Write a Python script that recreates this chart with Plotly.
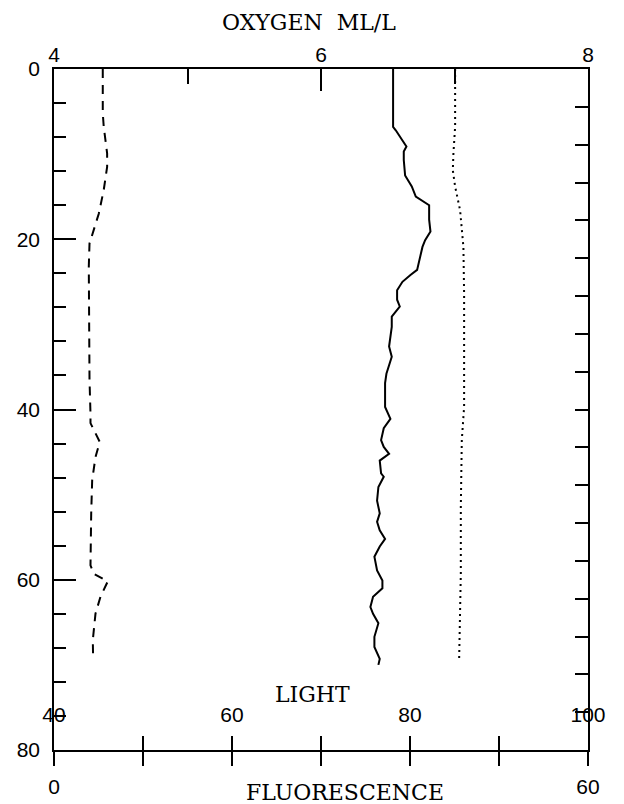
import plotly.graph_objects as go

# ---- data ----
depth_oxygen = [0, 6.8, 7.2, 8.3, 9.1, 9.7, 10.7, 12.5, 13.8, 15.0,
                16.0, 16.9, 17.7, 19.1, 20.1, 20.9, 21.6, 22.4, 23.6, 24.2,
                25.0, 26.0, 27.1, 27.9, 28.5, 29.1, 30.3, 31.5, 32.6, 33.8,
                35.8, 36.9, 39.7, 41.1, 42.2, 43.6, 44.4, 45.2, 46.0, 47.5,
                47.9, 49.1, 50.7, 52.2, 53.2, 54.2, 55.2, 56.1, 57.3, 58.9,
                60.1, 61.0, 62.0, 63.2, 64.0, 65.1, 66.7, 67.9, 69.3, 70.0]
oxygen = [6.54, 6.54, 6.56, 6.61, 6.64, 6.62, 6.62, 6.63, 6.68, 6.71,
          6.81, 6.81, 6.81, 6.82, 6.78, 6.76, 6.75, 6.74, 6.72, 6.67,
          6.61, 6.57, 6.57, 6.59, 6.56, 6.53, 6.53, 6.52, 6.51, 6.53,
          6.49, 6.48, 6.48, 6.52, 6.47, 6.45, 6.47, 6.51, 6.44, 6.45,
          6.47, 6.43, 6.42, 6.44, 6.42, 6.44, 6.48, 6.44, 6.40, 6.42,
          6.46, 6.46, 6.39, 6.37, 6.39, 6.43, 6.40, 6.40, 6.44, 6.43]

depth_fluor = [0, 5.2, 6.8, 9.9, 11.5, 14.2, 17.0, 18.9, 20.5, 23.2,
               36.5, 40.5, 41.6, 43.8, 45.6, 48.3, 52.2, 58.3, 59.3, 60.2,
               62.0, 64.0, 67.1, 69.4]
fluorescence = [5.48, 5.48, 5.59, 5.97, 5.97, 5.59, 5.03, 4.47, 3.99, 3.91,
                3.99, 4.10, 4.10, 5.14, 4.66, 4.29, 4.18, 4.10, 4.47, 6.04,
                5.22, 4.66, 4.36, 4.40]

depth_light = [0, 6.8, 9.9, 11.9, 13.8, 16.6, 20.9, 26.4, 33.8, 39.7,
               43.6, 51.4, 59.3, 65.1, 69.4]
light = [85.07, 85.07, 84.88, 84.81, 85.07, 85.63, 86.00, 86.08, 86.08, 86.08,
         85.82, 85.71, 85.71, 85.63, 85.52]

depth_ticks = [0, 20, 40, 60, 80]
oxygen_ticks = [4, 6, 8]
oxygen_minor = [5, 7]
light_ticks = [40, 60, 80, 100]
fluor_ticks = [0, 10, 20, 30, 40, 50, 60]
fluor_text = ["0", "", "", "", "", "", "60"]

NUM_FONT = dict(family="Liberation Sans, Arial, sans-serif", size=21, color="black")
TITLE_FONT = dict(family="DejaVu Serif, serif", size=22, color="black")

fig = go.Figure()
fig.add_trace(go.Scatter(x=oxygen, y=depth_oxygen, xaxis="x2", yaxis="y",
                         mode="lines", line=dict(color="black", width=2),
                         name="Oxygen", showlegend=False))
fig.add_trace(go.Scatter(x=fluorescence, y=depth_fluor, xaxis="x", yaxis="y",
                         mode="lines", line=dict(color="black", width=2, dash="9px,7px"),
                         name="Fluorescence", showlegend=False))
fig.add_trace(go.Scatter(x=light, y=depth_light, xaxis="x3", yaxis="y",
                         mode="lines", line=dict(color="black", width=2, dash="2px,4px"),
                         name="Light", showlegend=False))
# empty traces so the frame-only axes (inner bottom ticks, right ticks) are drawn
fig.add_trace(go.Scatter(x=[None], y=[None], xaxis="x4", yaxis="y",
                         mode="lines", showlegend=False, hoverinfo="skip"))
fig.add_trace(go.Scatter(x=[None], y=[None], xaxis="x", yaxis="y2",
                         mode="lines", showlegend=False, hoverinfo="skip"))

axis_common = dict(showgrid=False, zeroline=False, linecolor="black",
                   tickcolor="black", automargin=False)

# page body adds an 8px offset, so the figure is 8px smaller than the window
fig.update_layout(
    width=616, height=796,
    margin=dict(l=46, r=36, t=61, b=54),
    paper_bgcolor="white", plot_bgcolor="white",
    showlegend=False,
    xaxis=dict(range=[0, 60], domain=[0, 1], anchor="y", side="bottom",
               showline=True, linewidth=1.5, ticks="outside", ticklen=14, tickwidth=1.5,
               tickmode="array", tickvals=fluor_ticks, ticktext=fluor_text,
               tickfont=NUM_FONT, ticklabelstandoff=3, **axis_common),
    xaxis4=dict(range=[0, 60], overlaying="x", anchor="y", side="bottom",
                showline=False, ticks="inside", ticklen=14, tickwidth=1.5,
                tickmode="array", tickvals=fluor_ticks, showticklabels=False,
                **axis_common),
    xaxis2=dict(range=[4, 8], overlaying="x", anchor="y", side="top",
                showline=True, linewidth=1.5, ticks="inside", ticklen=22, tickwidth=1.5,
                tickmode="array", tickvals=oxygen_ticks, tickfont=NUM_FONT,
                ticklabelstandoff=-3,
                minor=dict(tickmode="array", tickvals=oxygen_minor, ticks="inside",
                           ticklen=15, tickwidth=1.5, tickcolor="black"),
                **axis_common),
    xaxis3=dict(range=[40, 100], overlaying="x", anchor="free", position=0.074,
                side="bottom", showline=False, ticks="",
                tickmode="array", tickvals=light_ticks, tickfont=NUM_FONT,
                **axis_common),
    yaxis=dict(range=[80, 0], domain=[0, 1], anchor="x", side="left",
               showline=True, linewidth=1.5, ticks="inside", ticklen=22, tickwidth=1.5,
               tickmode="array", tickvals=depth_ticks, tickfont=NUM_FONT,
               ticklabelstandoff=8,
               minor=dict(dtick=4, tick0=0, ticks="inside", ticklen=12,
                          tickwidth=1.5, tickcolor="black"),
               **axis_common),
    yaxis2=dict(range=[90, 0], overlaying="y", anchor="x", side="right",
                showline=True, linewidth=1.5, ticks="inside", ticklen=13, tickwidth=1.5,
                dtick=5, tick0=0, showticklabels=False, **axis_common),
    annotations=[
        dict(text="OXYGEN\u00a0\u00a0ML/L", xref="paper", yref="paper",
             x=0.478, y=1.068, xanchor="center", yanchor="middle",
             showarrow=False, font=TITLE_FONT),
        dict(text="LIGHT", xref="paper", yref="paper",
             x=0.484, y=0.0815, xanchor="center", yanchor="middle",
             showarrow=False, font=TITLE_FONT),
        dict(text="FLUORESCENCE", xref="paper", yref="paper",
             x=0.545, y=-0.062, xanchor="center", yanchor="middle",
             showarrow=False, font=TITLE_FONT),
    ],
)

fig.write_html("out.html")
